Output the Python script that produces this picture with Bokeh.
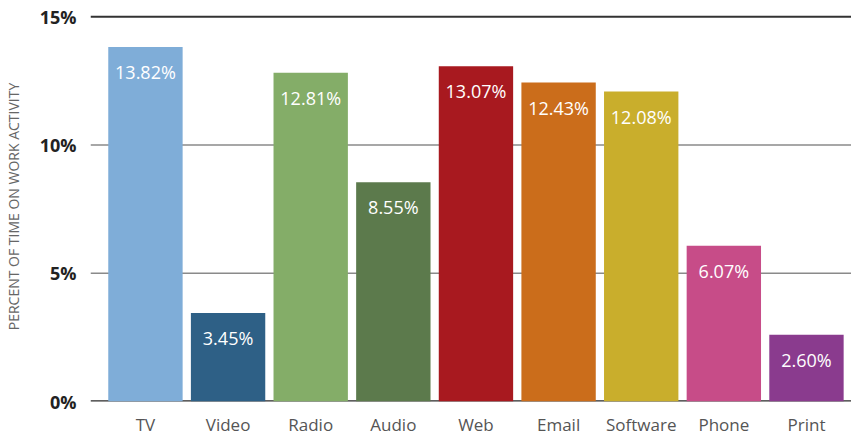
from bokeh.plotting import figure
from bokeh.models import ColumnDataSource, Span, FixedTicker, Range1d
from bokeh.core.properties import value
from bokeh.embed import file_html
from bokeh.resources import INLINE

categories = ["TV", "Video", "Radio", "Audio", "Web", "Email", "Software", "Phone", "Print"]
values = [13.82, 3.45, 12.81, 8.55, 13.07, 12.43, 12.08, 6.07, 2.60]
colors = ["#7FADD8", "#2E6086", "#84AD68", "#5C7A4C", "#A8191F",
          "#CB6D1B", "#C9AE2C", "#C74C88", "#8A3B8E"]
y_ticks = [0, 5, 10, 15]

xs = list(range(len(categories)))
src = ColumnDataSource(dict(
    x=xs, top=values, color=colors,
    label=[f"{v:.2f}%" for v in values],
))

p = figure(width=851, height=438, output_backend="svg", toolbar_location=None,
           x_range=Range1d(-0.665, 8.545), y_range=Range1d(0, 15.2),
           min_border_left=82, min_border_right=0, min_border_top=11,
           min_border_bottom=0)
p.outline_line_color = None
p.xgrid.visible = False
p.ygrid.visible = False

grid_styles = {0: ("#2a2a2a", 2.5), 5: ("#8a8a8a", 1.5), 10: ("#8a8a8a", 1.5), 15: ("#333333", 2)}
for t in y_ticks:
    c, w = grid_styles[t]
    p.add_layout(Span(location=t, dimension="width", line_color=c, line_width=w, level="underlay"))

p.vbar(x="x", top="top", bottom=0, width=0.9, fill_color="color", line_color=None, source=src)
p.text(x="x", y="top", text="label", source=src, text_color="white",
       text_font=value("Open Sans"), text_font_size="18px",
       text_align="center", text_baseline="middle", y_offset=25)

for ax in (p.xaxis, p.yaxis):
    ax.axis_line_color = None
    ax.major_tick_line_color = None
    ax.minor_tick_line_color = None
    ax.major_tick_out = 0
    ax.major_tick_in = 0
    ax.minor_tick_out = 0
    ax.minor_tick_in = 0

p.xaxis.ticker = FixedTicker(ticks=xs)
p.xaxis.major_label_overrides = {i: c for i, c in enumerate(categories)}
p.xaxis.major_label_text_font = "Open Sans"
p.xaxis.major_label_text_font_size = "17px"
p.xaxis.major_label_text_color = "#555555"
p.xaxis.major_label_standoff = 11

p.yaxis.ticker = FixedTicker(ticks=y_ticks)
p.yaxis.major_label_overrides = {t: f"{t}%" for t in y_ticks}
p.yaxis.major_label_text_font = "Open Sans"
p.yaxis.major_label_text_font_style = "bold"
p.yaxis.major_label_text_font_size = "18px"
p.yaxis.major_label_text_color = "#222222"
p.yaxis.major_label_standoff = 14
p.yaxis.axis_label = "PERCENT OF TIME ON WORK ACTIVITY"
p.yaxis.axis_label_text_font = "Open Sans"
p.yaxis.axis_label_text_font_style = "normal"
p.yaxis.axis_label_text_font_size = "14px"
p.yaxis.axis_label_text_color = "#666666"
p.yaxis.axis_label_standoff = 14

open("out.html", "w").write(file_html(p, INLINE))
